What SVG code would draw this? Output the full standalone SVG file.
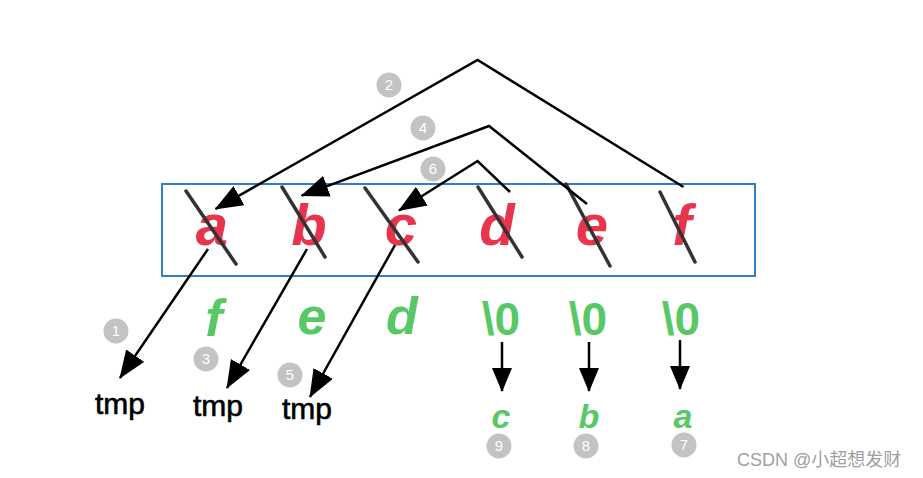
<svg xmlns="http://www.w3.org/2000/svg" width="923" height="478" viewBox="0 0 923 478">
<style>
.red{font-family:"Liberation Sans",Arial,sans-serif;font-style:italic;font-weight:bold;font-size:58px;fill:#e8344c;text-anchor:middle}
.grn{font-family:"Liberation Sans",Arial,sans-serif;font-style:italic;font-weight:bold;font-size:52px;fill:#58c867;text-anchor:middle}
.nul{font-family:"Liberation Sans",Arial,sans-serif;font-weight:bold;font-size:46px;fill:#58c867;text-anchor:middle}
.grs{font-family:"Liberation Sans",Arial,sans-serif;font-style:italic;font-weight:bold;font-size:34px;fill:#58c867;text-anchor:middle}
.tmp{font-family:"Liberation Sans",Arial,sans-serif;font-size:30px;fill:#000;stroke:#000;stroke-width:0.6;text-anchor:middle}
.slash{stroke:#333;stroke-width:3.5;stroke-linecap:round}
.ln{fill:none;stroke:#000;stroke-width:2.5}
.num circle{fill:#c3c3c3}
.num text{font-family:"Liberation Sans",Arial,sans-serif;font-size:15px;fill:#fff;text-anchor:middle}
.wm{font-family:"Liberation Sans","Noto Sans CJK SC",sans-serif;font-size:18px;fill:#a0a0a0}
</style>
<defs>
<marker id="ah" viewBox="0 0 28 22" refX="27" refY="11" markerWidth="28" markerHeight="22" markerUnits="userSpaceOnUse" orient="auto">
<path d="M0,0 L28,11 L0,22 z" fill="#000"/>
</marker>
<marker id="ahs" viewBox="0 0 24 20" refX="23" refY="10" markerWidth="24" markerHeight="20" markerUnits="userSpaceOnUse" orient="auto">
<path d="M0,0 L24,10 L0,20 z" fill="#000"/>
</marker>
</defs>
<rect width="923" height="478" fill="#fff"/>
<g id="array">
<rect x="162" y="184" width="593" height="92" fill="none" stroke="#2f7ec6" stroke-width="2"/>
<text class="red" x="212" y="245">a</text>
<text class="red" x="309" y="245">b</text>
<text class="red" x="401" y="245">c</text>
<text class="red" x="497" y="245">d</text>
<text class="red" x="592" y="245">e</text>
<text class="red" x="682" y="245">f</text>
<line class="slash" x1="186" y1="191" x2="236" y2="264"/>
<line class="slash" x1="282" y1="187" x2="325" y2="257"/>
<line class="slash" x1="365" y1="188" x2="418" y2="262"/>
<line class="slash" x1="478" y1="187" x2="522" y2="257"/>
<line class="slash" x1="566" y1="184" x2="610" y2="266"/>
<line class="slash" x1="660" y1="192" x2="695" y2="262"/>
</g>
<g id="connectors">
<path class="ln" d="M683.5,187 L477.6,60 L215.5,209" marker-end="url(#ah)"/>
<path class="ln" d="M587,204 L489,126 L301.6,195.6" marker-end="url(#ah)"/>
<path class="ln" d="M510,192 L477.6,161 L399,210.5" marker-end="url(#ah)"/>
<path class="ln" d="M208,249 L120,378" marker-end="url(#ah)"/>
<path class="ln" d="M307,249 L227,388" marker-end="url(#ah)"/>
<path class="ln" d="M395,245 L310,397" marker-end="url(#ah)"/>
<path class="ln" d="M502,342 L502,391" marker-end="url(#ahs)"/>
<path class="ln" d="M589,342 L589,391" marker-end="url(#ahs)"/>
<path class="ln" d="M680,340 L680,389" marker-end="url(#ahs)"/>
</g>
<g id="green-top">
<text class="grn" x="214" y="336">f</text>
<text class="grn" x="312" y="334">e</text>
<text class="grn" x="402" y="334">d</text>
<text class="nul" x="501" y="335">\0</text>
<text class="nul" x="588" y="335">\0</text>
<text class="nul" x="681" y="335">\0</text>
</g>
<g id="green-bottom">
<text class="grs" x="501" y="428">c</text>
<text class="grs" x="589" y="428">b</text>
<text class="grs" x="683" y="428">a</text>
</g>
<g id="tmps">
<text class="tmp" x="120" y="414">tmp</text>
<text class="tmp" x="218" y="416">tmp</text>
<text class="tmp" x="307" y="419">tmp</text>
</g>
<g id="steps" class="num">
<g id="s1"><circle cx="116" cy="331" r="12.5"/><text x="116" y="336">1</text></g>
<g id="s2"><circle cx="389" cy="85" r="12.5"/><text x="389" y="90">2</text></g>
<g id="s3"><circle cx="206" cy="359" r="12.5"/><text x="206" y="364">3</text></g>
<g id="s4"><circle cx="423" cy="128" r="12.5"/><text x="423" y="133">4</text></g>
<g id="s5"><circle cx="290" cy="375" r="12.5"/><text x="290" y="380">5</text></g>
<g id="s6"><circle cx="433" cy="169" r="12.5"/><text x="433" y="174">6</text></g>
<g id="s7"><circle cx="684" cy="445" r="12.5"/><text x="684" y="450">7</text></g>
<g id="s8"><circle cx="586" cy="446" r="12.5"/><text x="586" y="451">8</text></g>
<g id="s9"><circle cx="499" cy="446" r="12.5"/><text x="499" y="451">9</text></g>
</g>
<text class="wm" x="737" y="466">CSDN @小超想发财</text>
</svg>
